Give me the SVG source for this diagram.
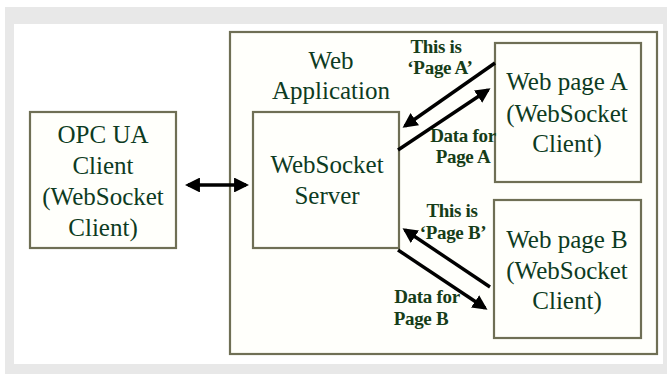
<svg xmlns="http://www.w3.org/2000/svg" width="667" height="374" viewBox="0 0 667 374">
  <style>
    .box { fill: #fffffb; stroke: #6f6f55; stroke-width: 2.2; }
    .txt { font-family: "Liberation Serif", "Times New Roman", serif; font-size: 25px; fill: #0d3b22; text-anchor: middle; }
    .lbl { font-family: "Liberation Serif", "Times New Roman", serif; font-size: 19px; font-weight: bold; fill: #163d18; text-anchor: middle; letter-spacing: -0.3px; }
    .wire { stroke: #000; stroke-width: 3.4; fill: none; }
  </style>
  <defs>
    <marker id="head" viewBox="0 0 10 10" refX="8" refY="5" markerWidth="4.4" markerHeight="4.4" orient="auto-start-reverse" markerUnits="strokeWidth">
      <path d="M0,0 L10,5 L0,10 Z" fill="#000"/>
    </marker>
  </defs>

  <!-- page background -->
  <rect x="0" y="0" width="667" height="374" fill="#ffffff"/>
  <rect x="5" y="7" width="662" height="367" fill="#e8e8e8"/>
  <rect x="14" y="24" width="649" height="340" fill="#ffffff"/>

  <g id="web-application">
    <rect class="box" x="230" y="32" width="427" height="322"/>
    <text class="txt" x="331" y="69">Web</text>
    <text class="txt" x="331" y="99">Application</text>
  </g>

  <g id="opc-ua-client">
    <rect class="box" x="30" y="112" width="146" height="136"/>
    <text class="txt" x="103" y="143">OPC UA</text>
    <text class="txt" x="103" y="174">Client</text>
    <text class="txt" x="103" y="205">(WebSocket</text>
    <text class="txt" x="103" y="236">Client)</text>
  </g>

  <g id="websocket-server">
    <rect class="box" x="253" y="112" width="146" height="136"/>
    <text class="txt" x="327" y="173">WebSocket</text>
    <text class="txt" x="327" y="204">Server</text>
  </g>

  <g id="web-page-a">
    <rect class="box" x="495" y="43" width="146" height="139"/>
    <text class="txt" x="567" y="90">Web page A</text>
    <text class="txt" x="567" y="122">(WebSocket</text>
    <text class="txt" x="567" y="152">Client)</text>
  </g>

  <g id="web-page-b">
    <rect class="box" x="494" y="200" width="147" height="138"/>
    <text class="txt" x="567" y="248">Web page B</text>
    <text class="txt" x="567" y="279">(WebSocket</text>
    <text class="txt" x="567" y="309">Client)</text>
  </g>

  <g id="connectors">
    <line class="wire" x1="188" y1="185" x2="246" y2="185" marker-start="url(#head)" marker-end="url(#head)"/>
    <line class="wire" x1="495" y1="63" x2="405" y2="126" marker-end="url(#head)"/>
    <line class="wire" x1="398" y1="150" x2="488" y2="90" marker-end="url(#head)"/>
    <line class="wire" x1="490" y1="287" x2="405" y2="230" marker-end="url(#head)"/>
    <line class="wire" x1="398" y1="250" x2="485" y2="308" marker-end="url(#head)"/>
  </g>

  <g id="labels">
    <text class="lbl" x="436" y="53">This is</text>
    <text class="lbl" x="440" y="74">‘Page A’</text>
    <text class="lbl" x="463" y="142">Data for</text>
    <text class="lbl" x="463" y="163">Page A</text>
    <text class="lbl" x="452" y="217">This is</text>
    <text class="lbl" x="453" y="239">‘Page B’</text>
    <text class="lbl" x="427" y="303">Data for</text>
    <text class="lbl" x="421" y="325">Page B</text>
  </g>
</svg>
